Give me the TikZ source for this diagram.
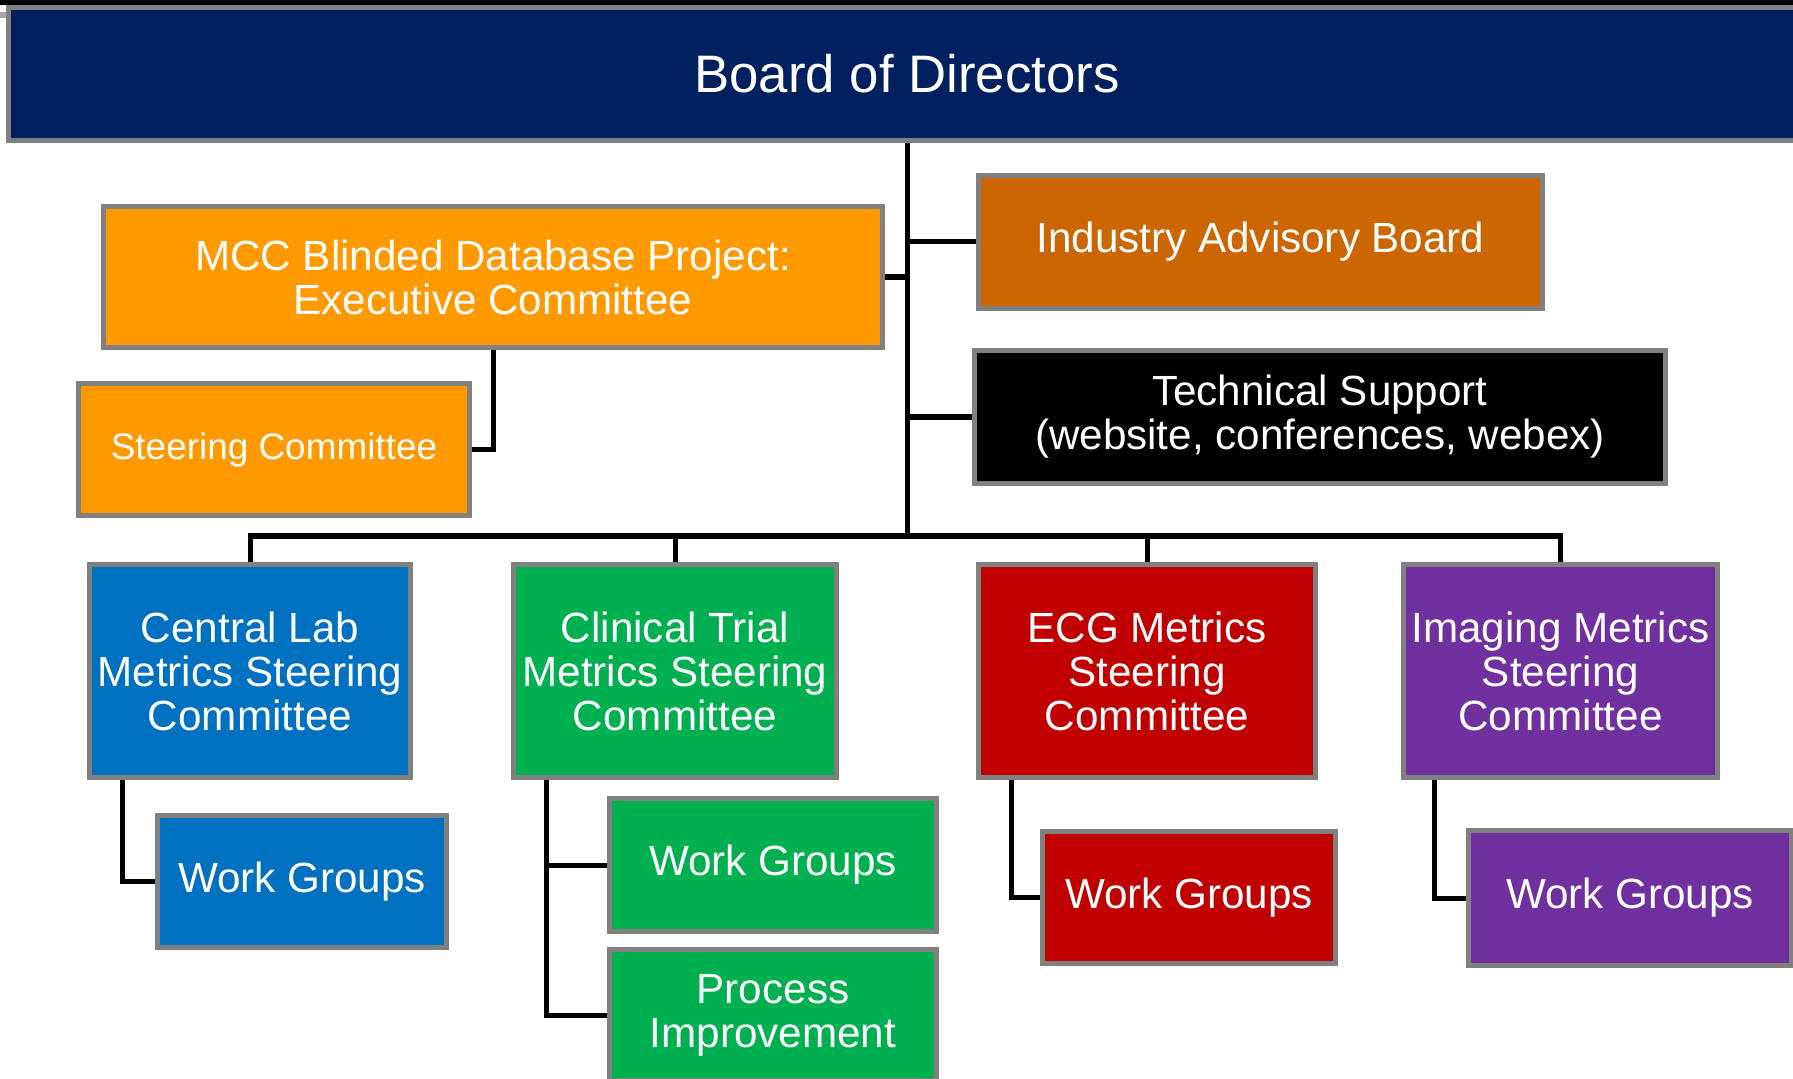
\documentclass[tikz,border=0pt]{standalone}
\usepackage{fontspec}
\setmainfont{Liberation Sans}
\usepackage{xcolor}
\usepackage{tikz}
\definecolor{boardblue}{RGB}{0,32,96}
\definecolor{mccorange}{RGB}{255,153,0}
\definecolor{iaborange}{RGB}{204,102,0}
\definecolor{labblue}{RGB}{0,112,192}
\definecolor{trialgreen}{RGB}{0,176,80}
\definecolor{ecgred}{RGB}{192,0,0}
\definecolor{imgpurple}{RGB}{112,48,160}
\definecolor{edgegray}{RGB}{128,128,128}

\tikzset{
  box/.style={rectangle, draw=edgegray, line width=0.5mm, text=white, align=center,
    inner sep=0pt, font=\fontsize{12}{12.5}\selectfont},
  link/.style={draw=black, line width=0.5mm}
}

\begin{document}
\begin{tikzpicture}[x=0.01cm, y=-0.01cm]
  \clip (0,0) rectangle (1793,1079);
  \useasboundingbox (0,0) rectangle (1793,1079);
  \fill[white] (0,0) rectangle (1793,1079);
  \fill[black] (0,0) rectangle (1793,5);
  \fill[gray!70] (0,12) rectangle (8,18);

  % top level
  \node[box, fill=boardblue, minimum width=179.6mm, minimum height=13.3mm,
    font=\fontsize{15}{18}\selectfont] (board) at (907,74) {Board of Directors};

  \node[box, fill=mccorange, minimum width=77.8mm, minimum height=14mm] (mcc) at (493,277)
    {MCC Blinded Database Project:\\Executive Committee};
  \node[box, fill=iaborange, minimum width=56.3mm, minimum height=13.2mm] (iab) at (1260.5,242)
    {Industry Advisory Board};
  \node[box, fill=black, minimum width=69mm, minimum height=13.2mm] (tech) at (1320,417)
    {Technical Support\\(website, conferences, webex)};
  \node[box, fill=mccorange, minimum width=39mm, minimum height=13.1mm,
    font=\fontsize{10.5}{12}\selectfont] (steer) at (274,449.5) {Steering Committee};

  % metrics committees
  \node[box, fill=labblue, minimum width=32mm, minimum height=21.2mm] (central) at (250,671)
    {Central Lab\\Metrics Steering\\Committee};
  \node[box, fill=trialgreen, minimum width=32.2mm, minimum height=21.2mm] (clinical) at (675,671)
    {Clinical Trial\\Metrics Steering\\Committee};
  \node[box, fill=ecgred, minimum width=33.6mm, minimum height=21.2mm] (ecg) at (1147,671)
    {ECG Metrics\\Steering\\Committee};
  \node[box, fill=imgpurple, minimum width=31.3mm, minimum height=21.2mm] (imaging) at (1560.5,671)
    {Imaging Metrics\\Steering\\Committee};

  % work groups
  \node[box, fill=labblue, minimum width=28.8mm, minimum height=13.1mm] (wglab) at (302,881.5) {Work Groups};
  \node[box, fill=trialgreen, minimum width=32.6mm, minimum height=13.2mm] (wgtrial) at (773,865) {Work Groups};
  \node[box, fill=trialgreen, minimum width=32.6mm, minimum height=13mm] (proc) at (773,1015)
    {Process\\Improvement};
  \node[box, fill=ecgred, minimum width=29.2mm, minimum height=13.1mm] (wgecg) at (1189,897.5) {Work Groups};
  \node[box, fill=imgpurple, minimum width=32.2mm, minimum height=13.4mm] (wgimg) at (1630,898) {Work Groups};

  % connectors
  \coordinate (bus) at (907,536);
  \draw[link] (board.south) -- (bus);
  \draw[link] (iab.west) -- (iab.west -| board.south);
  \draw[link] (mcc.east) -- (mcc.east -| board.south);
  \draw[link] (tech.west) -- (tech.west -| board.south);
  \draw[link] (mcc.south) |- (steer.east);

  \draw[link] (central.north) |- (bus) -| (imaging.north);
  \draw[link] (clinical.north) -- (clinical.north |- bus);
  \draw[link] (ecg.north) -- (ecg.north |- bus);

  \draw[link] ([xshift=3.5mm]central.south west) |- (wglab.west);
  \draw[link] ([xshift=3.5mm]clinical.south west) |- (wgtrial.west);
  \draw[link] ([xshift=3.5mm]clinical.south west) |- (proc.west);
  \draw[link] ([xshift=3.5mm]ecg.south west) |- (wgecg.west);
  \draw[link] ([xshift=3.3mm]imaging.south west) |- (wgimg.west);
\end{tikzpicture}
\end{document}
